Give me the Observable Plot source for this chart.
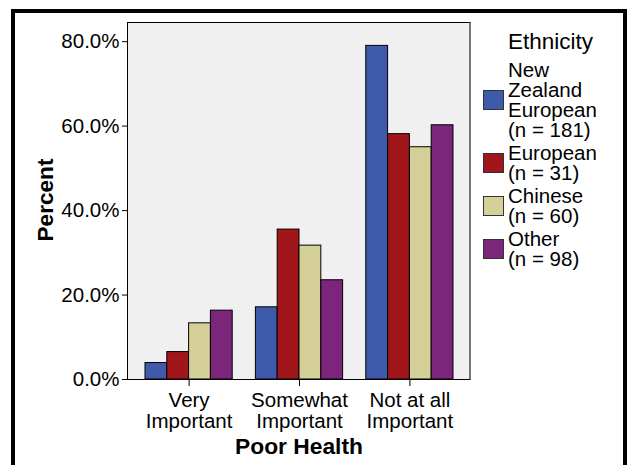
<!DOCTYPE html>
<html>
<head>
<meta charset="utf-8">
<script src="https://cdn.jsdelivr.net/npm/d3@7"></script>
<script src="https://cdn.jsdelivr.net/npm/@observablehq/plot@0.6"></script>
<style>
  html, body { margin: 0; padding: 0; background: white; overflow: hidden; }
  body { width: 632px; height: 465px; position: relative; font-family: "Liberation Sans", Arial, sans-serif; color: black; }
  #outer { position: absolute; left: 11px; top: 9px; width: 616px; height: 520px; box-sizing: border-box;
           border: 4px solid black; border-bottom: none; }
  #panel { position: absolute; left: 127px; top: 22px; width: 344px; height: 358px; box-sizing: border-box;
           background: #f0f0f0; border-top: 1px solid black; border-left: 1px solid black;
           border-right: 2px solid #777; border-bottom: 1px solid black; }
  #chart { position: absolute; left: 0; top: 0; }
  .ytitle { position: absolute; left: 45.5px; top: 200px; transform: translate(-50%, -50%) rotate(-90deg);
            font-weight: bold; font-size: 22.6px; white-space: nowrap; line-height: 1; }
  .xtitle { position: absolute; left: 299px; top: 432px; transform: translateX(-50%);
            font-weight: bold; font-size: 22.8px; white-space: nowrap; line-height: 28px; }
  #legend { position: absolute; left: 483px; top: 29px; }
  #legend .title { font-size: 22.5px; line-height: 25px; margin-left: 25px; margin-bottom: 6px; }
  #legend .item { display: flex; align-items: center; margin-bottom: 3px; }
  #legend .sw { width: 21px; height: 20px; box-sizing: border-box; border: 1px solid #333; margin-right: 4px; flex: none; }
  #legend .lab { font-size: 20.5px; line-height: 20px; white-space: pre; }
</style>
</head>
<body>
<div id="outer"></div>
<div id="panel"></div>
<div id="chart"></div>
<div class="ytitle">Percent</div>
<div class="xtitle">Poor Health</div>
<div id="legend"></div>
<script>
// ---- data ----
const categories = ["Very Important", "Somewhat Important", "Not at all Important"];
const categoryLabels = ["Very\nImportant", "Somewhat\nImportant", "Not at all\nImportant"];
const ethnicities = ["New Zealand European (n = 181)", "European (n = 31)", "Chinese (n = 60)", "Other (n = 98)"];
const legendLabels = ["New\nZealand\nEuropean\n(n = 181)", "European\n(n = 31)", "Chinese\n(n = 60)", "Other\n(n = 98)"];
const nzEuropean = [3.9, 17.1, 79.0];
const european = [6.5, 35.5, 58.1];
const chinese = [13.3, 31.7, 55.0];
const other = [16.3, 23.5, 60.2];
const yTicks = [0, 20, 40, 60, 80];
const colors = ["#3f5aaa", "#a0161b", "#d5cf98", "#7c267b"];
const legendTitle = "Ethnicity";

const series = [nzEuropean, european, chinese, other];
const data = categories.flatMap((c, i) =>
  ethnicities.map((e, j) => ({ category: c, ethnicity: e, value: series[j][i] })));

const W = 632, H = 465, mL = 128, mR = 162, mT = 23, mB = 86;
const padIn = 0.21, padOut = 0.154;
// the y axis is anchored to the first facet; shift it back to the panel's left edge
const fxStep = (W - mL - mR) / (categories.length - padIn + 2 * padOut);
const yAxisShift = -padOut * fxStep;

const plot = Plot.plot({
  width: W,
  height: H,
  marginLeft: mL,
  marginRight: mR,
  marginTop: mT,
  marginBottom: mB,
  style: { fontSize: "20.5px", fontFamily: "'Liberation Sans', Arial, sans-serif", background: "transparent", color: "black", overflow: "visible" },
  fx: {
    domain: categories,
    paddingInner: padIn,
    paddingOuter: padOut,
    round: false,
    label: null,
    tickSize: 7,
    tickPadding: 6,
    tickFormat: d => categoryLabels[categories.indexOf(d)]
  },
  x: { domain: ethnicities, padding: 0, round: false, axis: null },
  y: { domain: [0, 84.3], label: null },
  color: { domain: ethnicities, range: colors },
  marks: [
    Plot.barY(data, { fx: "category", x: "ethnicity", y: "value", fill: "ethnicity", stroke: "black", strokeWidth: 1 }),
    Plot.axisY({ ticks: yTicks, tickFormat: d => d.toFixed(1) + "%", tickSize: 6, tickPadding: 3, label: null, dx: yAxisShift })
  ]
});
document.getElementById("chart").appendChild(plot);

// legend built from the plot's color scale
const cs = plot.scale("color");
const legend = document.getElementById("legend");
const t = document.createElement("div");
t.className = "title";
t.textContent = legendTitle;
legend.appendChild(t);
cs.domain.forEach((e, i) => {
  const item = document.createElement("div");
  item.className = "item";
  const sw = document.createElement("div");
  sw.className = "sw";
  sw.style.background = cs.range[i];
  const lab = document.createElement("div");
  lab.className = "lab";
  lab.textContent = legendLabels[ethnicities.indexOf(e)];
  item.appendChild(sw);
  item.appendChild(lab);
  legend.appendChild(item);
});
</script>
</body>
</html>
